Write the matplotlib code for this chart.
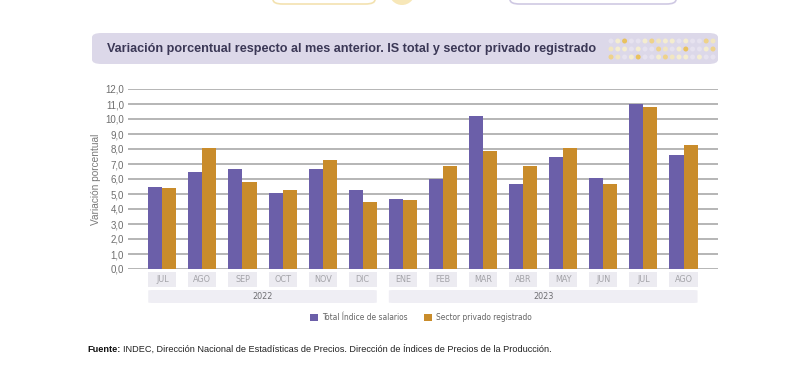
import numpy as np
import matplotlib
matplotlib.use("Agg")
import matplotlib.pyplot as plt
from matplotlib.patches import FancyBboxPatch, Rectangle, Ellipse

# ── data ──────────────────────────────────────────────────────────────────────
MONTHS = ["JUL", "AGO", "SEP", "OCT", "NOV", "DIC",
          "ENE", "FEB", "MAR", "ABR", "MAY", "JUN", "JUL", "AGO"]
YEARS = ["2022", "2023"]
YEAR_SPANS = [(0, 5), (6, 13)]
TOTAL_IS = [5.5, 6.5, 6.7, 5.1, 6.7, 5.3, 4.7, 6.0, 10.2, 5.7, 7.5, 6.1, 11.0, 7.6]
PRIVADO = [5.4, 8.1, 5.8, 5.3, 7.3, 4.5, 4.6, 6.9, 7.9, 6.9, 8.1, 5.7, 10.8, 8.3]
SERIES = ["Total Índice de salarios", "Sector privado registrado"]

PURPLE = "#6b5fa9"
ORANGE = "#c98c2b"
W, H = 800, 366

SANS = ["Liberation Sans", "DejaVu Sans"]
COND = dict(family="DejaVu Sans", stretch="condensed")


def fx(px):
    return px / W


def fy(py):
    return 1 - py / H


def dot(x, y, d, color):
    # circle given in pixels, drawn in figure coords
    fig.patches.append(Ellipse((fx(x), fy(y)), d / W, d / H,
                               transform=fig.transFigure, fc=color, ec="none"))


fig = plt.figure(figsize=(8, 3.66), dpi=100)
fig.patch.set_facecolor("white")

# ── decorations at the top (cut off in the original) ──────────────────────────
fig.patches.append(FancyBboxPatch((fx(273), fy(4)), fx(102), 0.05,
                                  boxstyle="round,pad=0,rounding_size=0.012",
                                  transform=fig.transFigure, fc="white",
                                  ec="#f3e2b0", lw=1.2))
dot(402, -8, 26, "#f7e7b8")
fig.patches.append(FancyBboxPatch((fx(510), fy(4)), fx(166), 0.05,
                                  boxstyle="round,pad=0,rounding_size=0.012",
                                  transform=fig.transFigure, fc="white",
                                  ec="#cfc9e3", lw=1.2))

# ── title banner ──────────────────────────────────────────────────────────────
fig.patches.append(FancyBboxPatch((fx(92), fy(64)), fx(626), fy(33) - fy(64),
                                  boxstyle="round,pad=0,rounding_size=0.012",
                                  transform=fig.transFigure, fc="#dcd8e9",
                                  ec="none"))
fig.text(fx(107), fy(49), "Variación porcentual respecto al mes anterior. "
         "IS total y sector privado registrado", fontsize=9.1,
         fontweight="bold", color="#3b3856", va="center", family=SANS)

dot_cols = ["#e6e2ef", "#f4edcf", "#eed28a", "#f4edcf", "#e6e2ef", "#f1e6c0",
            "#e9c25e", "#e6e2ef", "#f4edcf", "#e6e2ef", "#eed28a", "#f4edcf",
            "#e6e2ef", "#f1e6c0", "#e6e2ef", "#f4edcf"]
for r, yy in enumerate([41, 49, 57]):
    for c in range(16):
        col = dot_cols[(c * 3 + r * 5) % len(dot_cols)]
        dot(611 + c * 6.8, yy, 5, col)

# ── axes ──────────────────────────────────────────────────────────────────────
ax = fig.add_axes([fx(128), fy(269), fx(718) - fx(128), fy(89) - fy(269)])
x = np.arange(len(MONTHS))
bw = 0.35
ax.bar(x - bw / 2, TOTAL_IS, bw, color=PURPLE, label=SERIES[0], zorder=3)
ax.bar(x + bw / 2, PRIVADO, bw, color=ORANGE, label=SERIES[1], zorder=3)

ax.set_xlim(-0.855, 13.86)
ax.set_ylim(0, 12)
ax.set_yticks(np.arange(0, 13, 1))
ax.set_yticklabels([f"{v:.1f}".replace(".", ",") for v in range(13)],
                   fontsize=7, color="#6e6e6e", family=SANS)
ax.tick_params(axis="y", length=0, pad=3)
ax.set_xticks([])
ax.grid(axis="y", color="#a2a2a2", lw=1.1, zorder=0)
for s in ax.spines.values():
    s.set_visible(False)
ax.set_ylabel("Variación porcentual", fontsize=7.3, color="#7a7a7a",
              family=SANS, labelpad=3)

# month boxes and year boxes below the axis
trans = ax.get_xaxis_transform()
ax_px = (fy(89) - fy(269)) * H
for i, m in enumerate(MONTHS):
    ax.add_patch(Rectangle((i - bw, -17.5 / ax_px), 2 * bw, 15 / ax_px,
                           transform=trans, fc="#ecebf1", ec="none",
                           clip_on=False))
    ax.text(i, -10 / ax_px, m, transform=trans, ha="center", va="center",
            fontsize=6.5, color="#a3a3a8", **COND)

for yr, (a, b) in zip(YEARS, YEAR_SPANS):
    ax.add_patch(FancyBboxPatch((a - bw, -34 / ax_px), (b - a) + 2 * bw,
                                13 / ax_px, transform=trans,
                                boxstyle="round,pad=0,rounding_size=0.15",
                                mutation_aspect=0.02,
                                fc="#efeef4", ec="none", clip_on=False))
    ax.text((a + b) / 2, -27.5 / ax_px, yr, transform=trans, ha="center",
            va="center", fontsize=6.5, color="#6e6e72", **COND)

# legend
handles, labels = ax.get_legend_handles_labels()
fig.legend(handles, labels, loc="center", bbox_to_anchor=(fx(421), fy(318)),
           ncol=2, frameon=False, handlelength=0.9, handleheight=0.9,
           columnspacing=2.0, handletextpad=0.5,
           prop={"family": "DejaVu Sans", "stretch": "condensed", "size": 6.0},
           labelcolor="#666666")

# source
fig.text(fx(87), fy(349), "Fuente:", fontsize=6.6, fontweight="bold",
         color="#111111", va="center", family=SANS)
fig.text(fx(123), fy(349), "INDEC, Dirección Nacional de Estadísticas de Precios. "
         "Dirección de Índices de Precios de la Producción.", fontsize=6.6,
         color="#222222", va="center", family=SANS)

fig.savefig("out.png", dpi=100)
